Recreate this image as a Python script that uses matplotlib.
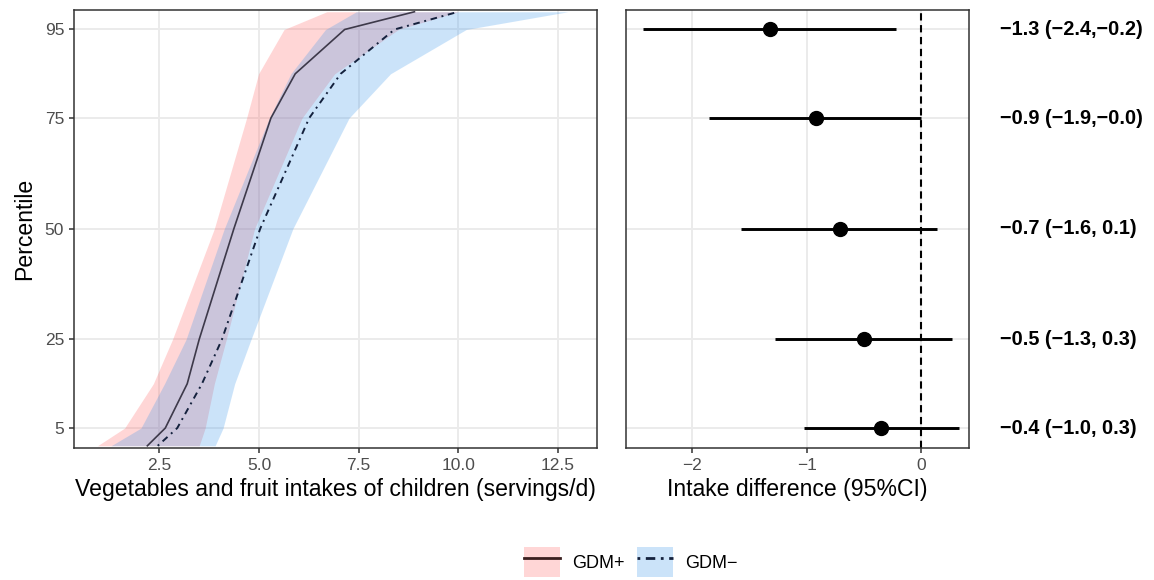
import matplotlib
matplotlib.use("Agg")
import matplotlib.pyplot as plt
import matplotlib.transforms as mtransforms
from matplotlib.lines import Line2D
from matplotlib.patches import Patch

plt.rcParams['font.family'] = ['Liberation Sans', 'DejaVu Sans']

# percentile curves (x = servings/d)
pct = [1, 5, 15, 25, 50, 75, 85, 95, 99]
gdm_pos_med = [2.2, 2.65, 3.2, 3.5, 4.37, 5.3, 5.91, 7.15, 8.9]
gdm_pos_lo = [0.95, 1.63, 2.35, 2.83, 3.88, 4.69, 4.99, 5.63, 6.7]
gdm_pos_hi = [3.5, 3.65, 3.88, 4.18, 4.89, 6.08, 6.9, 8.5, 10.0]
gdm_neg_med = [2.46, 2.95, 3.57, 4.07, 5.03, 6.26, 7.05, 8.4, 10.0]
gdm_neg_lo = [1.29, 2.04, 2.63, 3.17, 4.13, 5.26, 5.8, 6.67, 7.44]
gdm_neg_hi = [3.9, 4.1, 4.39, 4.8, 5.85, 7.26, 8.3, 10.2, 12.75]

# intake differences
diff_pct = [95, 75, 50, 25, 5]
diff_est = [-1.32, -0.92, -0.71, -0.50, -0.35]
diff_lo = [-2.43, -1.85, -1.57, -1.28, -1.02]
diff_hi = [-0.22, 0.0, 0.14, 0.27, 0.33]
diff_labels = ['\u22121.3 (\u22122.4,\u22120.2)', '\u22120.9 (\u22121.9,\u22120.0)',
               '\u22120.7 (\u22121.6, 0.1)', '\u22120.5 (\u22121.3, 0.3)',
               '\u22120.4 (\u22121.0, 0.3)']

y_ticks = [5, 25, 50, 75, 95]
x_ticks = [2.5, 5.0, 7.5, 10.0, 12.5]
x_tick_labels = ['2.5', '5.0', '7.5', '10.0', '12.5']
d_ticks = [-2, -1, 0]
d_tick_labels = ['\u22122', '\u22121', '0']

pink = '#FF5C5C'
blue = '#3393EB'
border = '#333333'
gridc = '#EBEBEB'
tickc = '#4D4D4D'

W, H = 1154, 580
fig = plt.figure(figsize=(W / 100, H / 100), dpi=100)
ax1 = fig.add_axes([74 / W, 1 - 448 / H, (597 - 74) / W, (448 - 10) / H])
ax2 = fig.add_axes([626 / W, 1 - 448 / H, (969 - 626) / W, (448 - 10) / H])

for ax in (ax1, ax2):
    for s in ax.spines.values():
        s.set_color(border)
        s.set_linewidth(1.1)
    ax.set_axisbelow(True)
    ax.grid(True, color=gridc, linewidth=1.4)
    ax.tick_params(colors=border, labelcolor=tickc, labelsize=12.5,
                   length=3.6, width=1.1)
    ax.set_yticks(y_ticks)
    ax.set_ylim(0.5, 99.4)

# left panel
ax1.fill_betweenx(pct, gdm_pos_lo, gdm_pos_hi, color=pink, alpha=0.25, lw=0)
ax1.fill_betweenx(pct, gdm_neg_lo, gdm_neg_hi, color=blue, alpha=0.25, lw=0)
ax1.plot(gdm_pos_med, pct, color='#2e2a3a', lw=1.2, alpha=0.9)
ax1.plot(gdm_neg_med, pct, color='#14213d', lw=1.4,
         dashes=(1.0, 2.4, 3.4, 2.4))
ax1.set_xlim(0.36, 13.48)
ax1.set_xticks(x_ticks)
ax1.set_xticklabels(x_tick_labels)
ax1.set_yticklabels([str(v) for v in y_ticks])
ax1.set_xlabel('Vegetables and fruit intakes of children (servings/d)',
               fontsize=16.6, labelpad=4)
ax1.set_ylabel('Percentile', fontsize=16.6, labelpad=6)

# right panel
ax2.axvline(0, color='black', lw=1.5, dashes=(3.5, 2.2), zorder=2)
ax2.hlines(diff_pct, diff_lo, diff_hi, color='black', lw=2.1, zorder=3)
ax2.plot(diff_est, diff_pct, 'o', color='black', ms=10, zorder=4)
ax2.set_xlim(-2.58, 0.42)
ax2.set_xticks(d_ticks)
ax2.set_xticklabels(d_tick_labels)
ax2.tick_params(axis='y', left=False, labelleft=False)
ax2.set_xlabel('Intake difference (95%CI)', fontsize=16.6, labelpad=4)

tr = mtransforms.blended_transform_factory(fig.transFigure, ax2.transData)
for yv, lab in zip(diff_pct, diff_labels):
    ax2.text(1000 / W, yv, lab, transform=tr, ha='left', va='center',
             fontsize=14.3, fontweight='bold', color='black', clip_on=False)

# legend
h_pos = (Patch(facecolor=pink, alpha=0.25, lw=0),
         Line2D([], [], color='#3a1f1f', lw=2.0))
h_neg = (Patch(facecolor=blue, alpha=0.25, lw=0),
         Line2D([], [], color='#14213d', lw=2.0, dashes=(1.0, 2.0, 3.4, 2.0)))
fig.legend([h_pos, h_neg], ['GDM+', 'GDM\u2212'], loc='center',
           bbox_to_anchor=(631 / W, 1 - 562 / H), ncol=2, frameon=False,
           fontsize=13, handlelength=1.95, handleheight=2.1,
           handletextpad=0.7, columnspacing=0.7, borderpad=0)

fig.savefig('out.png', dpi=100)
